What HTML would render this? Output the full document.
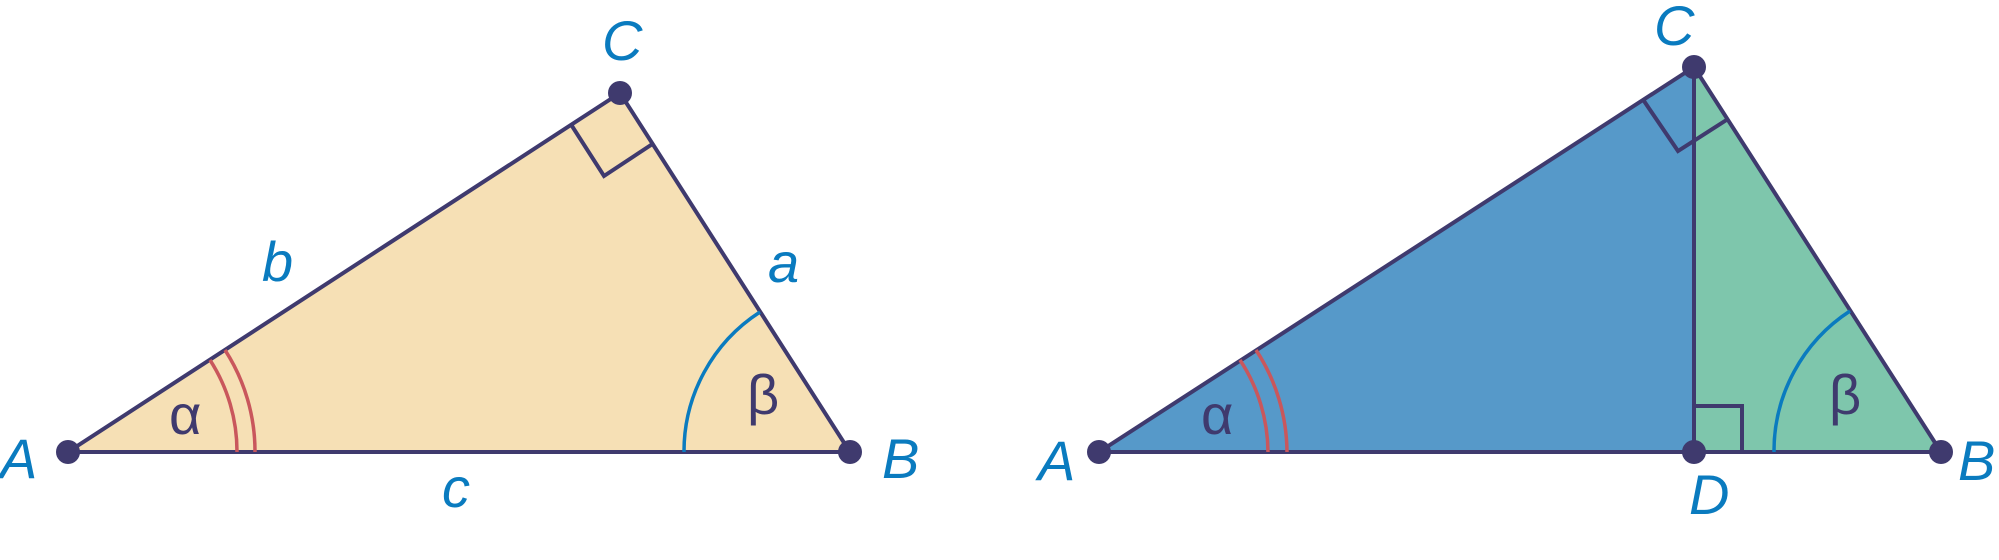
<!DOCTYPE html>
<html><head><meta charset="utf-8"><style>
html,body{margin:0;padding:0;background:#fff;}
svg{display:block;}
.l{font-family:"Liberation Sans",sans-serif;font-style:italic;fill:#0a7bbf;font-size:56px;}
.g{font-family:"Liberation Sans","DejaVu Sans",sans-serif;fill:#3f3a6e;font-size:56px;}
</style></head><body>
<svg width="1999" height="560" viewBox="0 0 1999 560" xmlns="http://www.w3.org/2000/svg">
<g stroke="#3f3a6e" stroke-width="4" fill="none" stroke-linejoin="miter">
<polygon points="68,452 850,452 620,93" fill="#f6e0b5"/>
<polygon points="1099,452 1694,452 1694,67" fill="#5699c9" stroke="none"/>
<polygon points="1694,452 1941,452 1694,67" fill="#7ec6ac" stroke="none"/>
<polygon points="1099,452 1941,452 1694,67"/>
<line x1="1694" y1="67" x2="1694" y2="452"/>
<polyline points="572,126 604,176 654,143"/>
<polyline points="1644,101 1678,151 1728,119"/>
<polyline points="1694,406 1742,406 1742,452"/>
</g>
<g fill="none" stroke-width="3.5">
<path d="M237,452 A169,169 0 0 0 210,360" stroke="#c9575c"/>
<path d="M255,452 A187,187 0 0 0 225,350" stroke="#c9575c"/>
<path d="M684,452 A166,166 0 0 1 760,312" stroke="#0a7bbf"/>
<path d="M1268,452 A169,169 0 0 0 1240,360" stroke="#c9575c"/>
<path d="M1287,452 A188,188 0 0 0 1256,350" stroke="#c9575c"/>
<path d="M1774,452 A167,167 0 0 1 1850,311" stroke="#0a7bbf"/>
</g>
<g fill="#3f3a6e">
<circle cx="68" cy="452" r="12"/><circle cx="850" cy="452" r="12"/><circle cx="620" cy="93" r="12"/>
<circle cx="1099" cy="452" r="12"/><circle cx="1941" cy="452" r="12"/><circle cx="1694" cy="67" r="12"/><circle cx="1694" cy="452" r="12"/>
</g>
<text class="l" x="602" y="60">C</text>
<text class="l" x="262" y="281">b</text>
<text class="l" x="768" y="282">a</text>
<text class="l" x="0" y="478">A</text>
<text class="l" x="882" y="478">B</text>
<text class="l" x="442" y="507">c</text>
<text class="g" x="169" y="434">α</text>
<text class="g" x="747" y="414">β</text>
<text class="l" x="1654" y="45">C</text>
<text class="l" x="1038" y="480">A</text>
<text class="l" x="1958" y="480">B</text>
<text class="l" x="1689" y="514">D</text>
<text class="g" x="1201" y="434">α</text>
<text class="g" x="1829" y="414">β</text>
</svg>
</body></html>
